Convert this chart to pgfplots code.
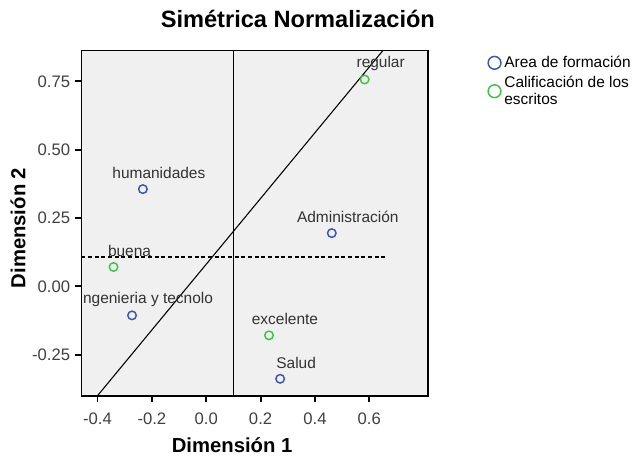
\documentclass[border=0pt]{standalone}
\usepackage{fontspec}
\setmainfont{Liberation Sans}
\usepackage{pgfplots}
\usepackage{pgfplotstable}
\pgfplotsset{compat=1.18}

\definecolor{spssblue}{HTML}{3D55B4}
\definecolor{spssgreen}{HTML}{3FC246}
\definecolor{plotbg}{HTML}{F0F0F0}

% coordenadas de los puntos
\pgfplotstableread[col sep=comma]{
x,y,label
-0.233,0.356,humanidades
0.462,0.195,Administración
-0.273,-0.106,ngenieria y tecnolo
0.272,-0.338,Salud
}\areadata
\pgfplotstableread[col sep=comma]{
x,y,label
0.583,0.757,regular
-0.341,0.071,buena
0.231,-0.179,excelente
}\califdata

\begin{document}
\begin{tikzpicture}
\begin{axis}[
  scale only axis,
  width=259.7pt, height=258.9pt,
  xmin=-0.459, xmax=0.815,
  ymin=-0.40, ymax=0.863,
  xtick={-0.4,-0.2,0,0.2,0.4,0.6},
  ytick={-0.25,0,0.25,0.5,0.75},
  xticklabel style={yshift=-4pt, /pgf/number format/.cd,fixed,fixed zerofill,precision=1},
  yticklabel style={/pgf/number format/.cd,fixed,fixed zerofill,precision=2},
  /pgf/number format/assume math mode=true,
  tick label style={font=\fontsize{12.5}{13}\selectfont, text=black!75},
  tick align=outside,
  major tick length=5pt,
  tick style={black, line width=1.4pt},
  xtick pos=bottom, ytick pos=left,
  axis line style={line width=1.3pt},
  axis background/.style={fill=plotbg},
  title={Simétrica Normalización},
  title style={font=\bfseries\fontsize{17.7}{19}\selectfont, at={(rel axis cs:0.625,1)}, anchor=center, yshift=17.6pt},
  xlabel={Dimensión 1},
  ylabel={Dimensión 2},
  label style={font=\bfseries\fontsize{15.2}{16}\selectfont},
  xlabel style={at={(rel axis cs:0.435,0)}, anchor=center, yshift=-37pt},
  ylabel style={at={(rel axis cs:0,0.486)}, anchor=center, yshift=47.6pt},
  every node near coord/.append style={anchor=center, xshift=12pt, yshift=12pt,
    font=\fontsize{11.6}{12}\selectfont, text=black!80},
  legend style={at={(rel axis cs:1.16,1.0)}, anchor=north west, draw=none, fill=none,
    font=\fontsize{11.6}{12.5}\selectfont, cells={anchor=west, align=left},
    row sep=1pt},
  legend image code/.code={\draw[#1, line width=1.1pt] (0.2cm,0cm) circle (4.8pt);},
]
\addplot[only marks, mark=o, mark size=3.2pt, spssblue, mark options={line width=1.1pt},
  nodes near coords, point meta=explicit symbolic]
  table[x=x, y=y, meta=label] {\areadata};
\addlegendentry{Area de formación}
\addplot[only marks, mark=o, mark size=3.2pt, spssgreen, mark options={line width=1.1pt},
  nodes near coords, point meta=explicit symbolic]
  table[x=x, y=y, meta=label] {\califdata};
\addlegendentry{Calificación de los\\escritos}

% lineas de referencia
\addplot[black, line width=1.1pt, forget plot] coordinates {(0.101,-0.40) (0.101,0.863)};
\addplot[black, line width=1.1pt, dash pattern=on 3pt off 2pt, forget plot] coordinates {(-0.459,0.108) (0.657,0.108)};
\addplot[black, line width=0.8pt, forget plot] coordinates {(-0.40,-0.40) (0.65,0.863)};
\end{axis}
\pgfresetboundingbox
\path ([shift={(-61.1pt,-45.2pt)}]current axis.south west) rectangle ++(475.5pt,342pt);
\end{tikzpicture}
\end{document}
